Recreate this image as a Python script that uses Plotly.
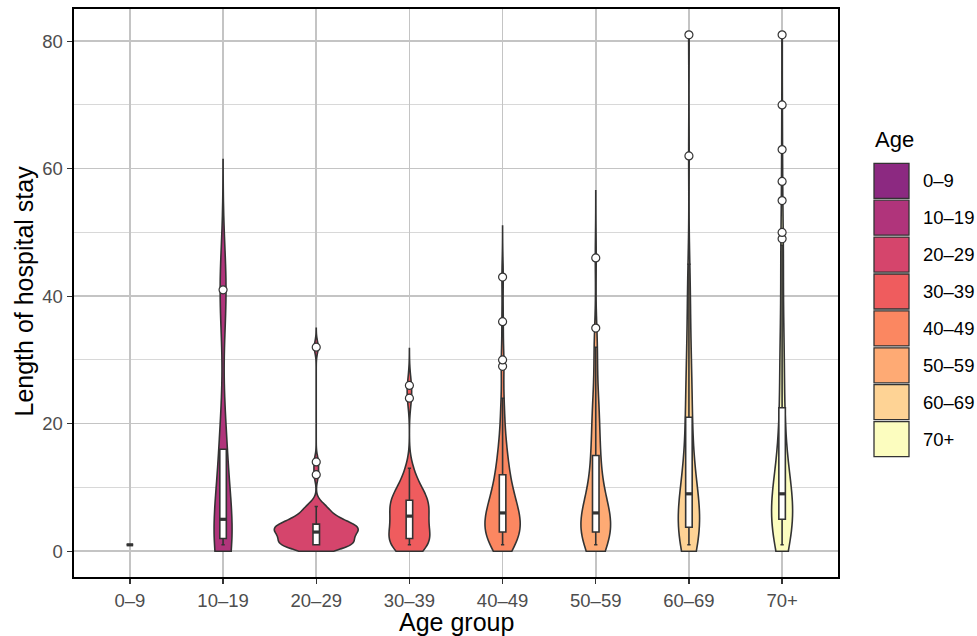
import numpy as np
import plotly.graph_objects as go

# ---------------- data (length of hospital stay, days) ----------------
age_groups = ["0–9", "10–19", "20–29", "30–39", "40–49", "50–59", "60–69", "70+"]
fill_colors = ["#8C2981", "#B0347B", "#D5456C", "#EF5C5E",
               "#FB8761", "#FEAA74", "#FED395", "#FCFDBF"]

stay_0_9 = [1]
stay_10_19 = [1, 2, 5, 16, 41]

vals_20_29 = [1, 2, 3, 4, 5, 6, 7, 12, 14, 32]
cnt_20_29 = [14, 4, 10, 11, 4, 3, 3, 1, 1, 1]

vals_30_39 = [1, 2, 3, 4, 5, 6, 7, 8, 9, 10, 11, 12, 13, 24, 26]
cnt_30_39 = [9, 2, 3, 3, 3, 3, 3, 5, 2, 2, 1, 1, 1, 1, 1]

vals_40_49 = [1, 2, 3, 4, 5, 6, 7, 8, 9, 10, 11, 12, 13, 14, 15, 16, 17, 18,
              20, 22, 24, 29, 30, 36, 43]
cnt_40_49 = [5, 6, 6, 4, 4, 6, 3, 3, 3, 2, 2, 2, 1, 2, 1, 1, 1, 1,
             1, 1, 1, 1, 1, 1, 1]

vals_50_59 = [1, 2, 3, 4, 5, 6, 7, 8, 9, 10, 11, 12, 13, 14, 15, 16, 17, 18,
              19, 20, 21, 22, 23, 24, 25, 29, 31, 32, 35, 46]
cnt_50_59 = [8, 4, 6, 5, 5, 5, 3, 2, 2, 2, 1, 2, 1, 1, 2, 1, 1, 1,
             1, 1, 1, 1, 1, 1, 1, 1, 1, 1, 1, 1]

vals_60_69 = [1, 2, 3, 4, 5, 6, 7, 8, 9, 10, 11, 12, 13, 14, 15, 16, 17, 18,
              19, 20, 21, 22, 23, 24, 25, 26, 27, 28, 29, 30, 32, 33, 35, 37,
              39, 41, 43, 45, 62, 81]
cnt_60_69 = [6, 6, 8, 5, 4, 4, 3, 3, 4, 2, 2, 2, 2, 2, 1, 1, 1, 1,
             1, 1, 2, 1, 1, 1, 1, 1, 1, 1, 1, 1, 1, 1, 1, 1,
             1, 1, 1, 1, 1, 1]

vals_70_plus = [1, 2, 3, 4, 5, 6, 7, 8, 9, 10, 11, 12, 13, 14, 15, 16, 17, 18,
                19, 20, 21, 22, 24, 25, 26, 27, 28, 29, 30, 31, 32, 33, 35, 36,
                38, 40, 42, 44, 46, 48, 49, 50, 55, 58, 63, 70, 81]
cnt_70_plus = [6, 5, 6, 6, 5, 5, 6, 5, 7, 3, 2, 3, 2, 2, 2, 2, 1, 2,
               1, 1, 1, 2, 1, 1, 1, 1, 1, 1, 1, 1, 1, 1, 1, 1,
               1, 1, 1, 1, 1, 1, 1, 1, 1, 1, 1, 1, 1]

y_limits = (0, 81)
y_ticks = [0, 20, 40, 60, 80]
y_minor_ticks = [10, 30, 50, 70]

# ---------------- helpers ----------------
def expand(vals, cnts):
    return np.repeat(np.asarray(vals, dtype=float), cnts)

group_data = [
    np.asarray(stay_0_9, dtype=float),
    np.asarray(stay_10_19, dtype=float),
    expand(vals_20_29, cnt_20_29),
    expand(vals_30_39, cnt_30_39),
    expand(vals_40_49, cnt_40_49),
    expand(vals_50_59, cnt_50_59),
    expand(vals_60_69, cnt_60_69),
    expand(vals_70_plus, cnt_70_plus),
]

def bw_nrd0(d):
    q1, q3 = np.percentile(d, [25, 75])
    lo = min(np.std(d, ddof=1), (q3 - q1) / 1.34)
    return 0.9 * lo * len(d) ** (-0.2)

def kde(d, bw, t):
    z = (np.asarray(t, float)[:, None] - d[None, :]) / bw
    return np.exp(-0.5 * z ** 2).sum(axis=1) / (len(d) * bw * np.sqrt(2 * np.pi))

def box_stats(d):
    q1, med, q3 = np.percentile(d, [25, 50, 75])
    iqr = q3 - q1
    upper = d[d <= q3 + 1.5 * iqr].max()
    lower = d[d >= q1 - 1.5 * iqr].min()
    out = d[(d > upper) | (d < lower)]
    return q1, med, q3, lower, upper, np.unique(out)

FONT = "Liberation Sans, Arial, Helvetica, sans-serif"
OUTLINE = "#333333"
VIOLIN_WIDTH = 0.9
BOX_WIDTH = 0.07

# ggplot-like violins: nrd0 bandwidth, tails cut at the y limits, equal areas
vparams = []
for d in group_data:
    if len(d) < 2:
        vparams.append(None)
        continue
    bw = bw_nrd0(d)
    span = [max(y_limits[0], d.min() - 3 * bw), min(y_limits[1], d.max() + 3 * bw)]
    peak = kde(d, bw, np.linspace(span[0], span[1], 1024)).max()
    vparams.append((bw, span, peak))
max_peak = max(p[2] for p in vparams if p is not None)

fig = go.Figure()

for cat, col, d, p in zip(age_groups, fill_colors, group_data, vparams):
    if p is None:
        continue
    bw, span, peak = p
    fig.add_trace(go.Violin(
        x=[cat] * len(d), y=d, name=cat,
        fillcolor=col, line=dict(color=OUTLINE, width=1.6),
        points=False, box_visible=False, meanline_visible=False,
        spanmode="manual", span=span, bandwidth=bw,
        scalegroup=cat, scalemode="width", width=VIOLIN_WIDTH * peak / max_peak,
        hoverinfo="skip", showlegend=False,
    ))

for idx, (cat, d) in enumerate(zip(age_groups, group_data)):
    q1, med, q3, lo, hi, out = box_stats(d)
    fig.add_trace(go.Box(
        x=[cat], q1=[q1], median=[med], q3=[q3], lowerfence=[lo], upperfence=[hi],
        width=BOX_WIDTH, fillcolor="white", line=dict(color=OUTLINE, width=1.6),
        boxpoints=False, hoverinfo="skip", showlegend=False,
    ))
    # ggplot draws the median line fattened
    fig.add_shape(type="line", xref="x", yref="y",
                  x0=idx - BOX_WIDTH / 2, x1=idx + BOX_WIDTH / 2, y0=med, y1=med,
                  line=dict(color=OUTLINE, width=3.2), layer="above")
    if len(out):
        fig.add_trace(go.Scatter(
            x=[cat] * len(out), y=out, mode="markers",
            marker=dict(symbol="circle", size=8, color="white",
                        line=dict(color=OUTLINE, width=1.2)),
            hoverinfo="skip", showlegend=False, cliponaxis=False,
        ))

# ---------------- layout ----------------
W, H = 977, 636
ML, MR, MT, MB = 74, 139, 9, 59
pad = 0.05 * (y_limits[1] - y_limits[0])
plot_w, plot_h = W - ML - MR, H - MT - MB

def px_x(px):
    return (px - ML) / plot_w

def px_y(py):
    return (H - MB - py) / plot_h

fig.update_layout(
    width=W, height=H,
    margin=dict(l=ML, r=MR, t=MT, b=MB, autoexpand=False),
    paper_bgcolor="white", plot_bgcolor="white",
    violinmode="overlay", boxmode="overlay", showlegend=False,
    font=dict(family=FONT, color="black"),
)
fig.update_xaxes(
    type="category", categoryorder="array", categoryarray=age_groups,
    range=[-0.6, len(age_groups) - 0.4],
    showgrid=True, gridcolor="#C4C4C4", gridwidth=1.5, zeroline=False,
    showline=True, mirror=True, linecolor="black", linewidth=2.4,
    ticks="outside", ticklen=5, tickwidth=1.2, tickcolor=OUTLINE,
    tickfont=dict(family=FONT, size=18.5, color="#4D4D4D"),
)
fig.update_yaxes(
    range=[y_limits[0] - pad, y_limits[1] + pad],
    tickmode="array", tickvals=y_ticks,
    showgrid=True, gridcolor="#C4C4C4", gridwidth=1.5, zeroline=False,
    minor=dict(tickmode="array", tickvals=y_minor_ticks, showgrid=True,
               gridcolor="#D8D8D8", gridwidth=1.0),
    showline=True, mirror=True, linecolor="black", linewidth=2.4,
    ticks="outside", ticklen=5, tickwidth=1.2, tickcolor=OUTLINE,
    tickfont=dict(family=FONT, size=18.5, color="#4D4D4D"),
)

# axis titles
fig.add_annotation(text="Age group", x=px_x(456), y=px_y(622), xref="paper", yref="paper",
                   xanchor="center", yanchor="middle", showarrow=False,
                   font=dict(family=FONT, size=25, color="black"))
fig.add_annotation(text="Length of hospital stay", x=px_x(23.5), y=px_y(291),
                   xref="paper", yref="paper", textangle=-90,
                   xanchor="center", yanchor="middle", showarrow=False,
                   font=dict(family=FONT, size=25, color="black"))

# legend (ggplot style keys)
leg_left, key_size, key_step, key_top0 = 874, 35, 36.9, 163.3
fig.add_annotation(text="Age", x=px_x(leg_left - 1), y=px_y(140), xref="paper", yref="paper",
                   xanchor="left", yanchor="middle", showarrow=False,
                   font=dict(family=FONT, size=22, color="black"))
for i, (cat, col) in enumerate(zip(age_groups, fill_colors)):
    top = key_top0 + i * key_step
    fig.add_shape(type="rect", xref="paper", yref="paper",
                  x0=px_x(leg_left), x1=px_x(leg_left + key_size),
                  y0=px_y(top + key_size), y1=px_y(top),
                  fillcolor=col, line=dict(color=OUTLINE, width=1.3), layer="above")
    fig.add_annotation(text=cat, x=px_x(leg_left + key_size + 11.5), y=px_y(top + key_size / 2),
                       xref="paper", yref="paper", xanchor="left", yanchor="middle",
                       showarrow=False, font=dict(family=FONT, size=18.5, color="black"))

fig.write_html(
    "out.html",
    config={"displayModeBar": False, "staticPlot": True},
    post_script="document.body.style.margin='0px';document.body.style.overflow='hidden';",
)
